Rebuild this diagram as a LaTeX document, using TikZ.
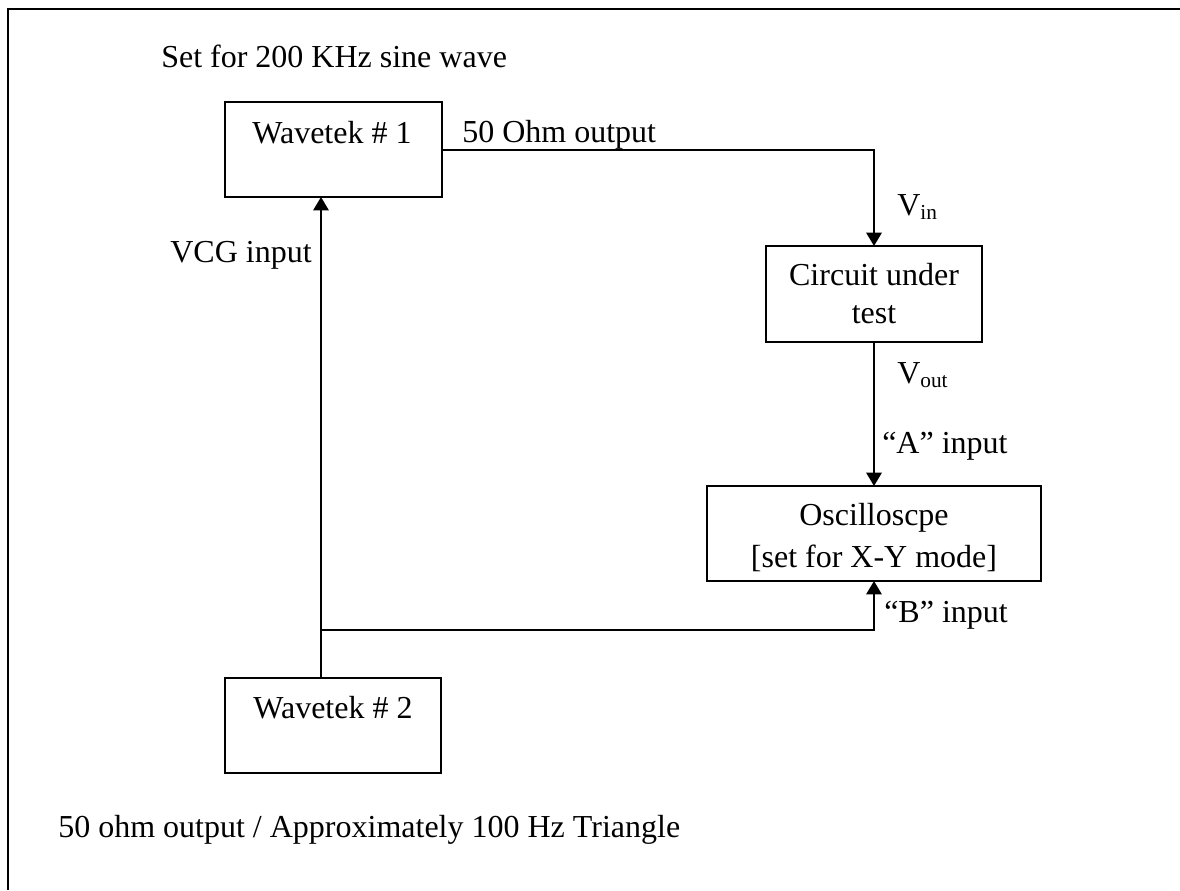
\documentclass[tikz,border=0pt]{standalone}
\usepackage{fontspec}
\setmainfont{Liberation Serif}
\usetikzlibrary{arrows.meta}
\begin{document}
\begin{tikzpicture}[x=0.75pt,y=-0.75pt,
  box/.style={draw,line width=1.5pt,rectangle,inner sep=0pt,outer sep=0pt},
  lbl/.style={inner sep=0pt,anchor=base west,font=\fontsize{24pt}{28pt}\selectfont},
  rlbl/.style={inner sep=0pt,anchor=base east,font=\fontsize{24pt}{28pt}\selectfont},
  clbl/.style={inner sep=0pt,anchor=base,font=\fontsize{24pt}{28pt}\selectfont},
  wire/.style={line width=1.5pt},
  arr/.style={wire,-{Triangle[length=10pt,width=11.5pt]}},
  frame/.style={line width=2.2pt,line join=miter}]
\useasboundingbox (0,0) rectangle (1180,890);
\newcommand{\subtxt}[1]{{\fontsize{16pt}{18pt}\selectfont\raisebox{-3pt}{#1}}}
% frame (only top and left edges visible)
\coordinate (tl) at (8,9);
\coordinate (tr) at (1180,9);
\coordinate (bl) at (8,890);
\draw[frame] (tr) -- (tl) -- (bl);
% boxes
\node[box,minimum width={217*0.75pt},minimum height={95*0.75pt}] (w1) at (333.5,149.5) {};
\node[box,minimum width={216*0.75pt},minimum height={96*0.75pt}] (cut) at (874,294) {};
\node[box,minimum width={334*0.75pt},minimum height={95*0.75pt}] (osc) at (874,533.5) {};
\node[box,minimum width={216*0.75pt},minimum height={95*0.75pt}] (w2) at (333,725.5) {};
% texts
\node[lbl] (settxt) at (161,67) {Set for 200 KHz sine wave};
\node[clbl] (w1txt) at (332,143) {Wavetek \# 1};
\node[lbl] (outtxt) at (462,142) {50 Ohm output};
\node[lbl] (vin) at (897,215) {V\subtxt{in}};
\node[clbl] (cut1) at (874,285) {Circuit under};
\node[clbl] (cut2) at (874,323) {test};
\node[lbl] (vout) at (897,383) {V\subtxt{out}};
\node[lbl] (ainp) at (882,453) {“A” input};
\node[clbl] (osc1) at (874,525) {Oscilloscpe};
\node[clbl] (osc2) at (874,567) {[set for X-Y mode]};
\node[lbl] (binp) at (884,622) {“B” input};
\node[rlbl] (vcg) at (312,262) {VCG input};
\node[clbl] (w2txt) at (333,718) {Wavetek \# 2};
\node[lbl] (bottxt) at (58,837) {50 ohm output / Approximately 100 Hz Triangle};
% connectors
\coordinate (j) at (321,630);
\draw[arr] (w1.east) -| (cut.north);
\draw[arr] (cut.south) -- (osc.north);
\draw[arr] (w2.north -| j) -- (w1.south -| j);
\draw[arr] (j) -| (osc.south);
\end{tikzpicture}
\end{document}
